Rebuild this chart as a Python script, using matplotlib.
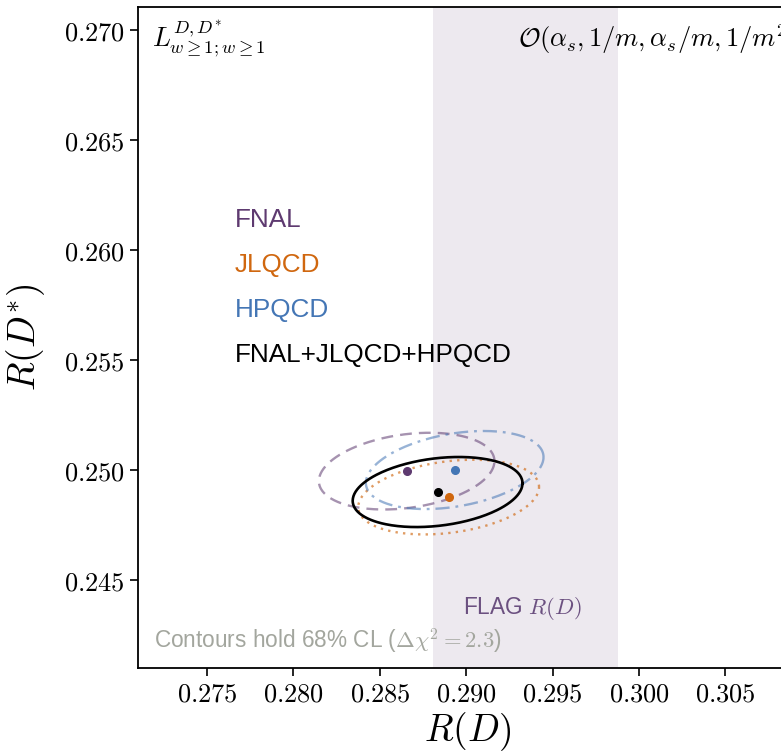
import numpy as np
import matplotlib
matplotlib.use("Agg")
import matplotlib.pyplot as plt
from matplotlib.ticker import FormatStrFormatter

plt.rcParams["mathtext.fontset"] = "cm"

# lattice inputs: central values, uncertainties and correlation
groups = ["FNAL", "JLQCD", "HPQCD", "FNAL+JLQCD+HPQCD"]
colors = ["#5e3a70", "#d0670f", "#4476b5", "black"]
styles = [(0, (5, 3)), (0, (1, 2.2)), (0, (6, 2.5, 1.2, 2.5)), "-"]
line_alpha = [0.55, 0.65, 0.55, 1.0]
rd = [0.28655, 0.28898, 0.28933, 0.28834]
rdstar = [0.24995, 0.24877, 0.25000, 0.24900]
sig_rd = [0.00335, 0.00345, 0.00339, 0.00324]
sig_rdstar = [0.00115, 0.00112, 0.00117, 0.00105]
rho = [0.26, 0.27, 0.33, 0.25]

# FLAG band for R(D)
flag_lo, flag_hi = 0.28805, 0.29880

xticks = [0.275, 0.280, 0.285, 0.290, 0.295, 0.300, 0.305]
yticks = [0.245, 0.250, 0.255, 0.260, 0.265, 0.270]
dchi2 = 2.3


def ellipse(mx, my, sx, sy, r, n=300):
    # contour of a 2d gaussian at delta chi^2
    cov = np.array([[sx**2, r * sx * sy], [r * sx * sy, sy**2]])
    L = np.linalg.cholesky(cov)
    t = np.linspace(0, 2 * np.pi, n)
    pts = np.sqrt(dchi2) * L @ np.vstack([np.cos(t), np.sin(t)])
    return mx + pts[0], my + pts[1]


fig = plt.figure(figsize=(7.81, 7.52), dpi=100)
ax = fig.add_axes([138 / 781, 1 - 668 / 752, 660 / 781, 661 / 752])

ax.axvspan(flag_lo, flag_hi, color="#5e3a70", alpha=0.11, lw=0, zorder=0)

for i, g in enumerate(groups):
    ex, ey = ellipse(rd[i], rdstar[i], sig_rd[i], sig_rdstar[i], rho[i])
    ax.plot(ex, ey, ls=styles[i], color=colors[i], alpha=line_alpha[i],
            lw=1.9 if i == 3 else 1.7)
    ax.plot(rd[i], rdstar[i], "o", color=colors[i], ms=5.5, zorder=5)

ax.set_xlim(0.271, 0.3092)
ax.set_ylim(0.241, 0.27105)
ax.set_xticks(xticks)
ax.set_yticks(yticks)
ax.xaxis.set_major_formatter(FormatStrFormatter(r"$%.3f$"))
ax.yaxis.set_major_formatter(FormatStrFormatter(r"$%.3f$"))
ax.tick_params(labelsize=19, length=6, width=1.2)
for s in ax.spines.values():
    s.set_linewidth(1.3)

ax.set_xlabel(r"$R(D)$", fontsize=27, labelpad=2)
ax.set_ylabel(r"$R(D^{*})$", fontsize=27, labelpad=12)

# group labels
for i, g in enumerate(groups):
    ax.text(0.27662, 0.26138 - i * 0.002045, g, color=colors[i], fontsize=18.8,
            family="Liberation Sans", va="center")

ax.text(0.2718, 0.2696, r"$L^{D,D^{*}}_{w\geq1;w\geq1}$", fontsize=19,
        va="center")
ax.text(0.29302, 0.2696, r"$\mathcal{O}(\alpha_s, 1/m, \alpha_s/m, 1/m^2)$",
        fontsize=19, va="center")
ax.text(0.29326, 0.24369, r"FLAG $R(D)$", color="#6b5080", fontsize=16.3,
        family="Liberation Sans", ha="center", va="center")
ax.text(0.2719, 0.24223, r"Contours hold 68% CL ($\Delta\chi^2 = 2.3$)",
        color="#a3a69e", fontsize=16.25, family="Liberation Sans",
        va="center")

fig.savefig("out.png", dpi=100)
